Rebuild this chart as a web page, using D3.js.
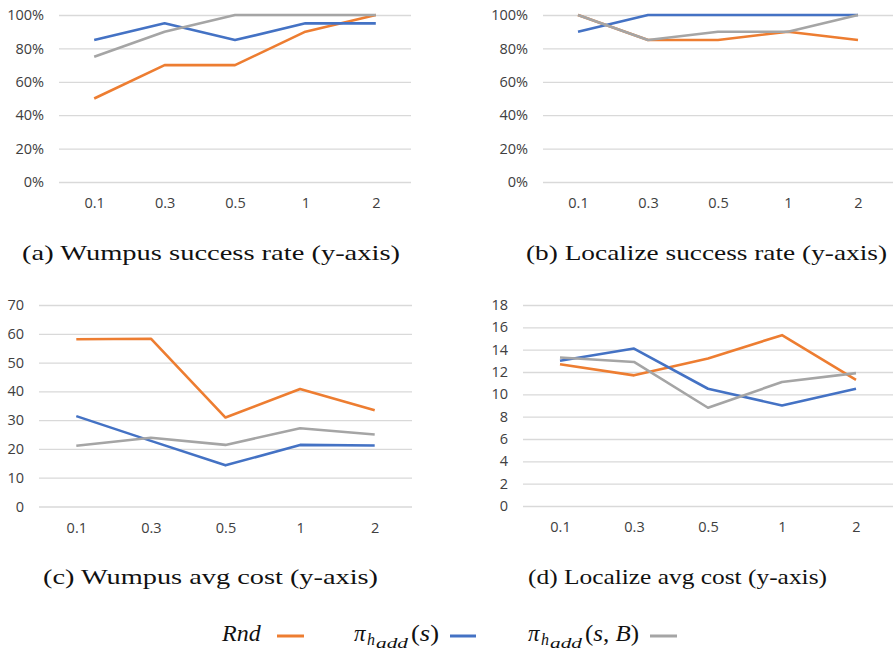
<!DOCTYPE html>
<html>
<head>
<meta charset="utf-8">
<script src="https://cdn.jsdelivr.net/npm/d3@7"></script>
<style>
  body { margin: 0; background: #fff; }
  .tick text { font-family: "Open Sans", "Liberation Sans", sans-serif; fill: #404040; }
  .caption { font-family: "Liberation Serif", "DejaVu Serif", serif; fill: #111; }
</style>
</head>
<body>
<svg id="chart"></svg>
<script>
const xLabels = ["0.1", "0.3", "0.5", "1", "2"]

// (a) Wumpus success rate
const wumpusSuccessRnd = [0.50, 0.70, 0.70, 0.90, 1.00]
const wumpusSuccessPi = [0.85, 0.95, 0.85, 0.95, 0.95]
const wumpusSuccessPiB = [0.75, 0.90, 1.00, 1.00, 1.00]

// (b) Localize success rate
const localizeSuccessRnd = [1.00, 0.85, 0.85, 0.90, 0.85]
const localizeSuccessPi = [0.90, 1.00, 1.00, 1.00, 1.00]
const localizeSuccessPiB = [1.00, 0.85, 0.90, 0.90, 1.00]

// (c) Wumpus avg cost
const wumpusCostRnd = [58.1, 58.3, 30.9, 40.8, 33.4]
const wumpusCostPi = [31.4, 22.8, 14.3, 21.4, 21.2]
const wumpusCostPiB = [21.1, 23.9, 21.4, 27.2, 25.0]

// (d) Localize avg cost
const localizeCostRnd = [12.7, 11.7, 13.2, 15.3, 11.3]
const localizeCostPi = [13.0, 14.1, 10.5, 9.0, 10.5]
const localizeCostPiB = [13.3, 12.9, 8.8, 11.1, 11.9]

const pctTicks = [0, 0.2, 0.4, 0.6, 0.8, 1.0]
const wumpusCostTicks = [0, 10, 20, 30, 40, 50, 60, 70]
const localizeCostTicks = [0, 2, 4, 6, 8, 10, 12, 14, 16, 18]

const captions = [
  "(a) Wumpus success rate (y-axis)",
  "(b) Localize success rate (y-axis)",
  "(c) Wumpus avg cost (y-axis)",
  "(d) Localize avg cost (y-axis)"
]

const colors = ["#ED7D31", "#4472C4", "#A5A5A5"]

const width = 894
const height = 650

const svg = d3.select("#chart").attr("width", width).attr("height", height)

const panels = [
  { series: [wumpusSuccessRnd, wumpusSuccessPi, wumpusSuccessPiB], ticks: pctTicks, max: 1, fmt: d3.format(".0%"),
    left: 59, right: 411, top: 15, bottom: 182, cap: captions[0], capX: 22, capY: 260, capW: 378 },
  { series: [localizeSuccessRnd, localizeSuccessPi, localizeSuccessPiB], ticks: pctTicks, max: 1, fmt: d3.format(".0%"),
    left: 543, right: 893, top: 15, bottom: 182, cap: captions[1], capX: 526, capY: 260, capW: 361 },
  { series: [wumpusCostRnd, wumpusCostPi, wumpusCostPiB], ticks: wumpusCostTicks, max: 70, fmt: d3.format("d"),
    left: 39, right: 412, top: 305, bottom: 506.5, cap: captions[2], capX: 43, capY: 584, capW: 335 },
  { series: [localizeCostRnd, localizeCostPi, localizeCostPiB], ticks: localizeCostTicks, max: 18, fmt: d3.format("d"),
    left: 523, right: 893, top: 305, bottom: 506, cap: captions[3], capX: 528, capY: 584, capW: 299 }
]

for (const p of panels) {
  const ax = d3.scalePoint().domain(xLabels).range([p.left, p.right]).padding(0.5)
  const ay = d3.scaleLinear().domain([0, p.max]).range([p.bottom, p.top])

  // y axis + gridlines
  const gy = svg.append("g")
    .attr("transform", `translate(${p.left},0)`)
    .call(d3.axisLeft(ay).tickValues(p.ticks).tickFormat(p.fmt).tickSize(-(p.right - p.left)).tickPadding(15))
  gy.select(".domain").remove()
  gy.selectAll(".tick line").attr("stroke", "#d9d9d9").attr("stroke-width", 1.3)
  gy.selectAll(".tick text").style("font-size", "14.5px")

  // x axis labels
  const gx = svg.append("g")
    .attr("transform", `translate(0,${p.bottom})`)
    .call(d3.axisBottom(ax).tickSize(0).tickPadding(16))
  gx.select(".domain").remove()
  gx.selectAll(".tick text").style("font-size", "14.5px")

  svg.append("g").selectAll("path")
    .data(p.series)
    .join("path")
    .attr("d", d3.line((d, i) => ax(xLabels[i]), d => ay(d)))
    .attr("fill", "none")
    .attr("stroke", (d, i) => colors[i])
    .attr("stroke-width", 2.6)
    .attr("stroke-linejoin", "round")

  svg.append("text")
    .attr("class", "caption")
    .attr("x", p.capX)
    .attr("y", p.capY)
    .attr("textLength", p.capW)
    .attr("lengthAdjust", "spacingAndGlyphs")
    .style("font-size", "22px")
    .text(p.cap)
}

// legend
const lgd = svg.append("g").attr("class", "caption")
const lgdY = 641

lgd.append("text").attr("x", 222).attr("y", lgdY)
  .style("font-style", "italic").style("font-size", "24px").text("Rnd")

const piLabel = (x, args, argW) => {
  lgd.append("text").attr("x", x).attr("y", lgdY)
    .style("font-style", "italic").style("font-size", "23px").text("π")
  lgd.append("text").attr("x", x + 13).attr("y", lgdY + 4)
    .style("font-style", "italic").style("font-size", "16px").text("h")
  lgd.append("text").attr("x", x + 22).attr("y", lgdY + 7)
    .attr("textLength", 32).attr("lengthAdjust", "spacingAndGlyphs")
    .style("font-style", "italic").style("font-size", "14px").text("add")
  const t = lgd.append("text").attr("x", x + 57).attr("y", lgdY)
    .attr("textLength", argW).attr("lengthAdjust", "spacingAndGlyphs")
    .style("font-size", "24px")
  t.append("tspan").text("(")
  args.forEach((s, i) => {
    if (i > 0) t.append("tspan").text(", ")
    t.append("tspan").style("font-style", "italic").text(s)
  })
  t.append("tspan").text(")")
}
piLabel(354, ["s"], 28)
piLabel(528, ["s", "B"], 54)

const lgdLines = [[277, 304], [450, 476], [650, 677]]
lgd.selectAll("line")
  .data(lgdLines)
  .join("line")
  .attr("x1", d => d[0])
  .attr("x2", d => d[1])
  .attr("y1", 636)
  .attr("y2", 636)
  .attr("stroke", (d, i) => colors[i])
  .attr("stroke-width", 3)
</script>
</body>
</html>
